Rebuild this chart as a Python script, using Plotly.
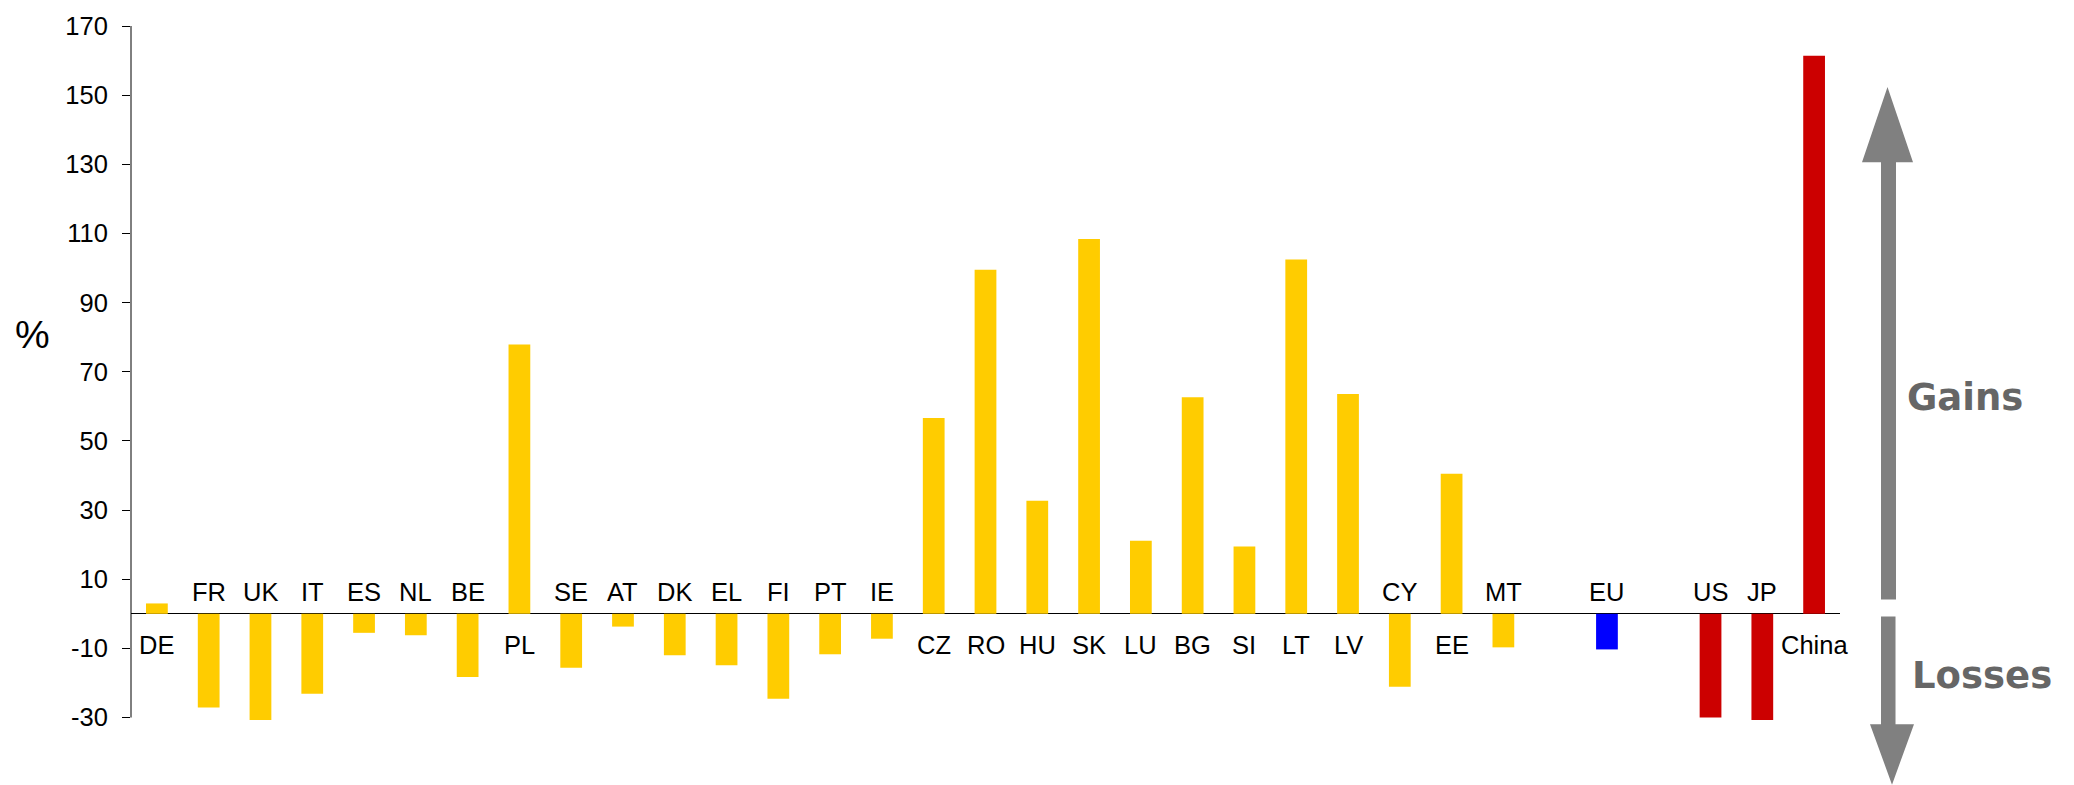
import plotly.graph_objects as go

# ---------------- data ----------------
member_states = ["DE", "FR", "UK", "IT", "ES", "NL", "BE", "PL", "SE", "AT", "DK",
                 "EL", "FI", "PT", "IE", "CZ", "RO", "HU", "SK", "LU", "BG", "SI",
                 "LT", "LV", "CY", "EE", "MT"]
member_values = [3.0, -27.1, -30.7, -23.1, -5.5, -6.2, -18.3, 77.9, -15.6, -3.7, -12.0,
                 -14.9, -24.6, -11.7, -7.2, 56.6, 99.5, 32.7, 108.4, 21.1, 62.6, 19.5,
                 102.5, 63.6, -21.1, 40.5, -9.7]
eu_labels = ["EU"]
eu_values = [-10.3]
world_labels = ["US", "JP", "China"]
world_values = [-30.0, -30.7, 161.4]
y_ticks = [-30, -10, 10, 30, 50, 70, 90, 110, 130, 150, 170]

# ---------------- layout geometry ----------------
W, H = 2074, 785
ML, MR, MT_, MB = 131, 234, 22, 64
PW, PH = W - ML - MR, H - MT_ - MB
Y_RANGE = [-31, 170]

def px_x(px):
    return (px - ML) / PW

def px_y(py):
    return (H - MB - py) / PH

YELLOW = "#FFCC00"
RED = "#CC0000"
BLUE = "#0000FF"
GREY = "#808080"
FONT = "Liberation Sans, Arial, sans-serif"

# slot positions: groups separated by one empty slot
groups = [(member_states, member_values, YELLOW),
          (eu_labels, eu_values, BLUE),
          (world_labels, world_values, RED)]
fig = go.Figure()
pos = 0
all_labels, all_x, all_vals = [], [], []
for labels, vals, color in groups:
    xs = list(range(pos, pos + len(labels)))
    fig.add_trace(go.Bar(x=xs, y=vals, width=0.42, marker=dict(color=color, line=dict(width=0)),
                         showlegend=False, hoverinfo="skip"))
    all_labels += labels
    all_x += xs
    all_vals += vals
    pos += len(labels) + 1
last_slot = all_x[-1]

annotations = []
for lab, x, v in zip(all_labels, all_x, all_vals):
    if v >= 0:
        annotations.append(dict(x=x, y=0, xref="x", yref="y", text=lab, showarrow=False,
                                xanchor="center", yanchor="top", yshift=-15,
                                font=dict(family=FONT, size=25.5, color="black")))
    else:
        annotations.append(dict(x=x, y=0, xref="x", yref="y", text=lab, showarrow=False,
                                xanchor="center", yanchor="bottom", yshift=6,
                                font=dict(family=FONT, size=25.5, color="black")))

annotations.append(dict(x=px_x(32), y=px_y(332.5), xref="paper", yref="paper", text="%",
                        showarrow=False, xanchor="center", yanchor="middle",
                        font=dict(family=FONT, size=39, color="black")))
annotations.append(dict(x=px_x(1964.5), y=px_y(396), xref="paper", yref="paper",
                        text="<b>Gains</b>", showarrow=False, xanchor="center", yanchor="middle",
                        font=dict(family="DejaVu Sans", size=37, color="#666666")))
annotations.append(dict(x=px_x(1982.5), y=px_y(675.5), xref="paper", yref="paper",
                        text="<b>Losses</b>", showarrow=False, xanchor="center", yanchor="middle",
                        font=dict(family="DejaVu Sans", size=37, color="#666666")))

def poly(points):
    return "M " + " L ".join(f"{px_x(a):.5f},{px_y(b):.5f}" for a, b in points) + " Z"

up_arrow = [(1881, 598.7), (1881, 159), (1862, 159), (1887.5, 83.3), (1913, 159),
            (1896, 159), (1896, 598.7)]
down_arrow = [(1881, 616), (1881, 724.3), (1870, 724.3), (1892, 785), (1914, 724.3),
              (1895.5, 724.3), (1895.5, 616)]

shapes = [
    # y axis line from -30 to 170
    dict(type="line", xref="paper", yref="y", x0=0, x1=0, y0=-30, y1=170,
         line=dict(color="black", width=1)),
    dict(type="path", xref="paper", yref="paper", path=poly(up_arrow),
         fillcolor=GREY, line=dict(width=0)),
    dict(type="path", xref="paper", yref="paper", path=poly(down_arrow),
         fillcolor=GREY, line=dict(width=0)),
]

fig.update_layout(
    width=W, height=H,
    margin=dict(l=ML, r=MR, t=MT_, b=MB, pad=0),
    paper_bgcolor="white", plot_bgcolor="white",
    xaxis=dict(range=[-0.5, last_slot + 0.5], showticklabels=False, showgrid=False,
               zeroline=False, showline=False, ticks=""),
    yaxis=dict(range=Y_RANGE, tickvals=y_ticks, ticktext=[str(t) for t in y_ticks],
               showgrid=False, showline=False, zeroline=True, zerolinecolor="black",
               zerolinewidth=1, ticks="outside", ticklen=8, tickwidth=1, tickcolor="black",
               ticklabelstandoff=9,
               tickfont=dict(family=FONT, size=25.5, color="black")),
    annotations=annotations,
    shapes=shapes,
)

fig.write_html("out.html")
